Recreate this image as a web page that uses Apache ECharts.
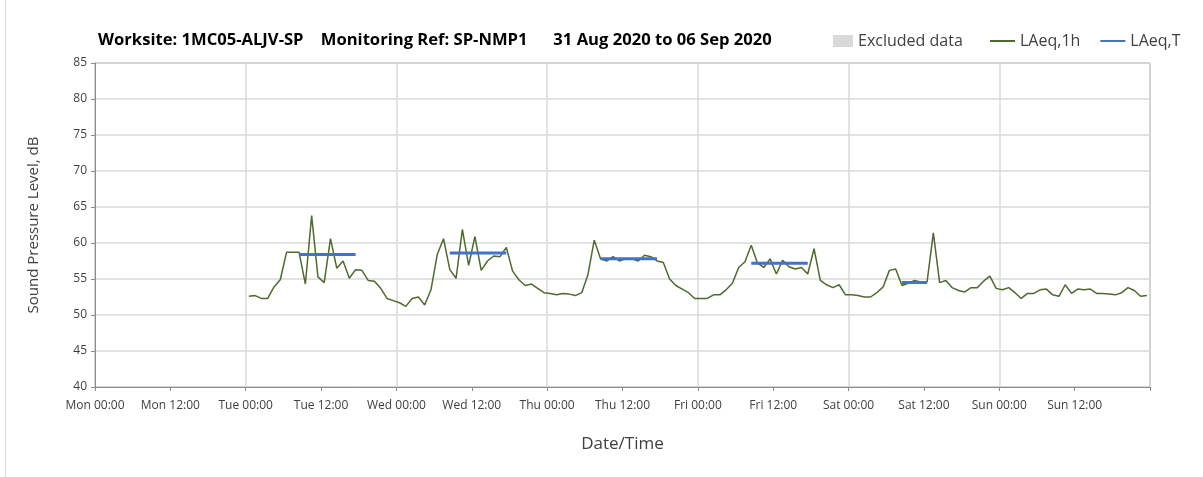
<!DOCTYPE html>
<html>
<head>
<meta charset="utf-8">
<script src="https://cdn.jsdelivr.net/npm/echarts@6/dist/echarts.min.js"></script>
<style>
  html, body { margin: 0; padding: 0; background: #fff; }
  #chart { width: 1203px; height: 477px; }
</style>
</head>
<body>
<div id="chart"></div>
<script>
// x tick labels, one every 12 hours from Mon 00:00
const tickLabels = [
  "Mon 00:00", "Mon 12:00", "Tue 00:00", "Tue 12:00", "Wed 00:00", "Wed 12:00",
  "Thu 00:00", "Thu 12:00", "Fri 00:00", "Fri 12:00", "Sat 00:00", "Sat 12:00",
  "Sun 00:00", "Sun 12:00", ""
];

// hourly LAeq,1h, first reading at Tue 00:30 (hour 24.5 from Mon 00:00)
const firstHour = 24.5;
const laeq1h = [
  52.6, 52.7, 52.3, 52.3, 53.9, 54.9, 58.7, 58.7, 58.7, 54.3, 63.8, 55.3,
  54.5, 60.6, 56.5, 57.5, 55.1, 56.3, 56.2, 54.8, 54.7, 53.7, 52.3, 52.0,
  51.7, 51.2, 52.3, 52.5, 51.4, 53.5, 58.4, 60.6, 56.3, 55.1, 61.9, 56.9,
  60.9, 56.2, 57.5, 58.2, 58.1, 59.4, 56.1, 54.9, 54.1, 54.3, 53.7, 53.1,
  53.0, 52.8, 53.0, 52.9, 52.7, 53.1, 55.6, 60.4, 57.8, 57.5, 58.1, 57.5,
  57.8, 57.8, 57.5, 58.3, 58.1, 57.5, 57.3, 55.0, 54.1, 53.6, 53.1, 52.3,
  52.3, 52.3, 52.8, 52.8, 53.5, 54.4, 56.6, 57.4, 59.7, 57.2, 56.6, 57.8,
  55.7, 57.6, 56.7, 56.4, 56.6, 55.7, 59.2, 54.8, 54.2, 53.8, 54.2, 52.8,
  52.8, 52.7, 52.5, 52.5, 53.1, 53.9, 56.2, 56.4, 54.1, 54.4, 54.8, 54.6,
  54.6, 61.4, 54.5, 54.8, 53.8, 53.4, 53.2, 53.8, 53.8, 54.7, 55.4, 53.7,
  53.5, 53.8, 53.1, 52.3, 53.0, 53.0, 53.5, 53.6, 52.8, 52.6, 54.2, 53.0,
  53.6, 53.5, 53.6, 53.0, 53.0, 52.9, 52.8, 53.1, 53.8, 53.4, 52.6, 52.7
];

// LAeq,T working-period levels: start / end hour (from Mon 00:00) and value
const laeqTStart = [32.5, 56.5, 80.5, 104.5, 128.5];
const laeqTEnd = [41.5, 65.5, 89.5, 113.5, 132.5];
const laeqTValue = [58.4, 58.6, 57.8, 57.2, 54.5];

const textColor = "#404040";
const fontFamily = "'Open Sans', 'Noto Sans', sans-serif";

let lineData = laeq1h.map((v, i) => [firstHour + i, v]);

let tData = [];
laeqTValue.forEach((v, i) => {
  tData.push([laeqTStart[i], v]);
  tData.push([laeqTEnd[i], v]);
  tData.push([laeqTEnd[i] + 0.01, "-"]);
});

let myChart = echarts.init(document.getElementById("chart"));

let legendText = { fontFamily: fontFamily, fontSize: 16, color: textColor };

let option = {
  backgroundColor: "#fff",
  animation: false,
  title: {
    text: "Worksite: 1MC05-ALJV-SP    Monitoring Ref: SP-NMP1      31 Aug 2020 to 06 Sep 2020",
    left: 93,
    top: 27,
    textStyle: {
      fontFamily: fontFamily,
      fontSize: 16.6,
      fontWeight: "bold",
      color: "#000",
    },
  },
  legend: [
    {
      left: 828,
      top: 28,
      itemWidth: 20,
      itemHeight: 12,
      itemGap: 4,
      textStyle: legendText,
      data: [{ name: "Excluded data", icon: "rect" }],
    },
    {
      left: 985,
      top: 28,
      itemWidth: 25,
      itemHeight: 2,
      itemGap: 20,
      textStyle: legendText,
      data: [
        { name: "LAeq,1h", icon: "rect" },
        { name: "LAeq,T", icon: "rect" },
      ],
    },
  ],
  grid: {
    left: 95,
    right: 53,
    top: 63,
    bottom: 90,
    show: true,
    borderColor: "#8c8c8c",
    borderWidth: 1,
  },
  xAxis: [
    {
      type: "value",
      min: 0,
      max: 168,
      interval: 12,
      name: "Date/Time",
      nameLocation: "middle",
      nameGap: 49,
      nameTextStyle: { fontFamily: fontFamily, fontSize: 17, color: textColor },
      axisLine: { show: true, lineStyle: { color: "#8c8c8c" } },
      axisTick: { show: true, length: 4, lineStyle: { color: "#8c8c8c" } },
      axisLabel: {
        fontFamily: fontFamily,
        fontSize: 12,
        color: textColor,
        margin: 13,
        formatter: (v) => tickLabels[Math.round(v / 12)] || "",
      },
      splitLine: { show: false },
    },
    {
      type: "value",
      min: 0,
      max: 168,
      interval: 24,
      position: "bottom",
      axisLine: { show: false },
      axisTick: { show: false },
      axisLabel: { show: false },
      splitLine: { show: true, lineStyle: { color: "#d9d9d9", width: 1.5 } },
    },
  ],
  yAxis: {
    type: "value",
    min: 40,
    max: 85,
    interval: 5,
    name: "Sound Pressure Level, dB",
    nameLocation: "middle",
    nameGap: 54,
    nameTextStyle: { fontFamily: fontFamily, fontSize: 15, color: textColor },
    axisLine: { show: true, lineStyle: { color: "#8c8c8c" } },
    axisTick: { show: true, length: 4, lineStyle: { color: "#8c8c8c" } },
    axisLabel: { fontFamily: fontFamily, fontSize: 12, color: textColor, margin: 8 },
    splitLine: { show: true, lineStyle: { color: "#d9d9d9", width: 1.5 } },
  },
  series: [
    {
      name: "Excluded data",
      type: "bar",
      color: "#d9d9d9",
      data: [],
    },
    {
      name: "LAeq,1h",
      type: "line",
      color: "#4f6a2f",
      symbol: "none",
      lineStyle: { width: 1.5, color: "#4f6a2f" },
      data: lineData,
      z: 3,
    },
    {
      name: "LAeq,T",
      type: "line",
      color: "#4472c4",
      symbol: "none",
      connectNulls: false,
      lineStyle: { width: 3, color: "#4472c4" },
      data: tData,
      z: 4,
    },
  ],
  graphic: [
    {
      type: "line",
      shape: { x1: 5.5, y1: 0, x2: 5.5, y2: 477 },
      style: { stroke: "#d9d9d9", lineWidth: 1 },
    },
  ],
};

myChart.setOption(option, true);
window.onresize = myChart.resize;
</script>
</body>
</html>
